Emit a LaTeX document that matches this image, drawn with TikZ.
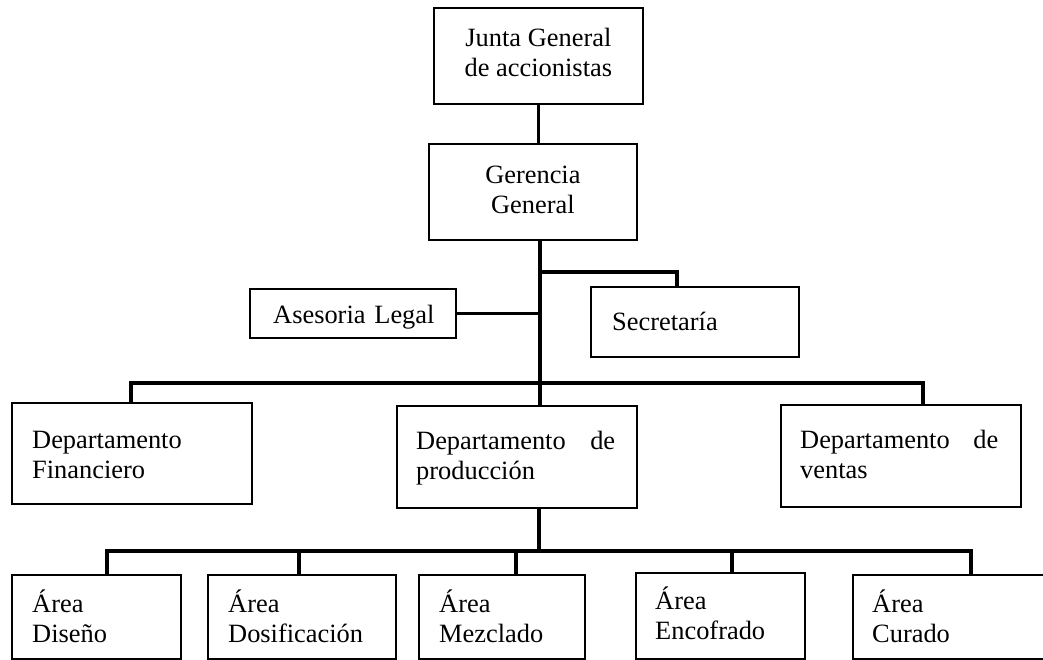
\documentclass[tikz,border=0pt]{standalone}
\usepackage{fontspec}
\setmainfont{Liberation Serif}
\usetikzlibrary{calc}
\tikzset{
  box/.style={draw=black, line width=1.8pt, inner sep=0pt, anchor=north west},
  txt/.style={inner sep=0pt, anchor=base west, align=left, text width=230pt, font=\fontsize{26.4pt}{30pt}\selectfont},
  ctxt/.style={inner sep=0pt, align=center, font=\fontsize{26.4pt}{30pt}\selectfont},
  conn/.style={draw=black, line width=3.6pt},
}
\begin{document}
\begin{tikzpicture}[x=1pt,y=-1pt]
\useasboundingbox (0,0) rectangle (1043,660);
\clip (0,0) rectangle (1043,660);
% boxes
\node[box, minimum width=209pt, minimum height=96pt] (junta) at (433,7) {};
\node[box, minimum width=208pt, minimum height=96pt] (gerencia) at (428,143) {};
\node[box, minimum width=206pt, minimum height=49pt] (asesoria) at (249,288) {};
\node[box, minimum width=208pt, minimum height=70pt] (secretaria) at (590,286) {};
\node[box, minimum width=240pt, minimum height=101pt] (financiero) at (11,402) {};
\node[box, minimum width=240pt, minimum height=102pt] (produccion) at (396,405) {};
\node[box, minimum width=240pt, minimum height=102pt] (ventas) at (780,404) {};
\node[box, minimum width=169pt, minimum height=84pt] (diseno) at (11,574) {};
\node[box, minimum width=188pt, minimum height=84pt] (dosificacion) at (207,574) {};
\node[box, minimum width=166pt, minimum height=84pt] (mezclado) at (418,574) {};
\node[box, minimum width=169pt, minimum height=86pt] (encofrado) at (635,572) {};
\node[box, minimum width=220pt, minimum height=84pt] (curado) at (852,574) {};
% texts
\node[ctxt] (juntaT) at ($(junta.center)+(0,-3)$) {Junta General\\de accionistas};
\node[ctxt] (gerenciaT) at ($(gerencia.center)+(0,-2)$) {Gerencia\\General};
\node[txt] (asesoriaT) at (273,323) {Asesoria Legal};
\node[txt] (secretariaT) at (612,330) {Secretaría};
\node[txt] (financieroT) at (32,448) {Departamento\\Financiero};
\node[txt, text width=199pt] (produccionT) at (416,449) {Departamento\hfill de\\producción};
\node[txt, text width=198pt] (ventasT) at (800,448) {Departamento\hfill de\\ventas};
\node[txt] (disenoT) at (32,612) {Área\\Diseño};
\node[txt] (dosificacionT) at (228,612) {Área\\Dosificación};
\node[txt] (mezcladoT) at (439,612) {Área\\Mezclado};
\node[txt] (encofradoT) at (655,609) {Área\\Encofrado};
\node[txt] (curadoT) at (872,612) {Área\\Curado};
% junctions
\coordinate (sp) at (540,383);
\coordinate (secj) at (677,272);
\coordinate (dL) at (131,383);
\coordinate (dR) at (923,383);
\coordinate (aj) at (539,551);
\coordinate (aL) at (107,551);
\coordinate (aR) at (971,551);
\coordinate (a2) at (299,551);
\coordinate (a3) at (516,551);
\coordinate (a4) at (732,551);
% connectors
\draw[conn] (junta.south) -- (junta.south |- gerencia.north);
\draw[conn] (sp |- gerencia.south) -- (sp |- produccion.north);
\draw[conn] (sp |- secj) -- (secj) -- (secj |- secretaria.north);
\draw[conn] (asesoria.east) -- (asesoria.east -| sp);
\draw[conn] (dL |- financiero.north) -- (dL) -- (dR) -- (dR |- ventas.north);
\draw[conn] (produccion.south -| aj) -- (aj);
\draw[conn] (aL |- diseno.north) -- (aL) -- (aR) -- (aR |- curado.north);
\draw[conn] (a2) -- (a2 |- dosificacion.north);
\draw[conn] (a3) -- (a3 |- mezclado.north);
\draw[conn] (a4) -- (a4 |- encofrado.north);
\end{tikzpicture}
\end{document}
